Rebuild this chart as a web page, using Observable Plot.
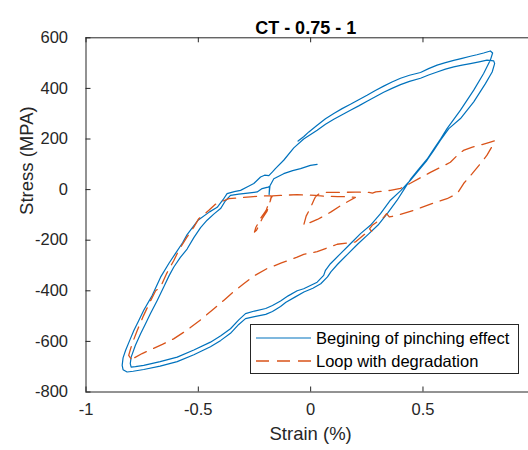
<!DOCTYPE html>
<html>
<head>
<meta charset="utf-8">
<script src="https://cdn.jsdelivr.net/npm/d3@7"></script>
<script src="https://cdn.jsdelivr.net/npm/@observablehq/plot@0.6"></script>
<style>
  html, body { margin: 0; padding: 0; background: #fff; overflow: hidden; }
  #chart svg { overflow: hidden; display: block; }
</style>
</head>
<body>
<div id="chart"></div>
<script>
const title = "CT - 0.75 - 1";
const xLabel = "Strain (%)";
const yLabel = "Stress (MPA)";
const seriesNames = ["Begining of pinching effect", "Loop with degradation"];
const seriesColors = ["#0072BD", "#D95319"];

const xTicks = [-1, -0.5, 0, 0.5, 1];
const xTickLabels = ["-1", "-0.5", "0", "0.5", "1"];
const yTicks = [-800, -600, -400, -200, 0, 200, 400, 600];
const yTickLabels = ["-800", "-600", "-400", "-200", "0", "200", "400", "600"];

// Series 1: Begining of pinching effect
const blueStrain = [
  -0.056,-0.030,-0.008,0.029,0.066,0.103,0.140,0.177,0.214,0.251,0.288,0.325,0.362,0.400,0.440,0.489,0.525,0.563,0.600,0.637,0.674,0.711,0.740,0.770,0.800,0.810,
  0.800,0.770,0.726,0.667,0.607,0.578,0.548,0.518,0.480,0.444,0.415,0.385,0.345,0.300,0.255,0.210,0.165,0.120,0.090,0.075,0.045,0.010,-0.030,-0.070,-0.110,-0.134,-0.170,-0.200,-0.250,-0.290,-0.320,-0.357,-0.400,-0.446,-0.520,-0.594,-0.670,-0.743,-0.790,-0.817,-0.835,-0.839,
  -0.835,-0.824,-0.805,-0.787,-0.765,-0.743,-0.705,-0.668,-0.630,-0.600,-0.570,-0.550,-0.500,-0.450,-0.416,-0.390,-0.372,-0.340,-0.312,-0.283,-0.253,-0.223,-0.205,-0.186,-0.170,
  -0.157,-0.120,-0.075,-0.031,0.029,0.066,0.103,0.140,0.177,0.214,0.251,0.288,0.325,0.362,0.400,0.440,0.489,0.525,0.563,0.600,0.637,0.674,0.711,0.750,0.785,0.815,0.819,
  0.808,0.778,0.726,0.667,0.615,0.578,0.548,0.518,0.480,0.444,0.400,0.355,0.311,0.266,0.222,0.177,0.133,0.088,0.066,0.058,0.029,-0.001,-0.031,-0.060,-0.100,-0.134,-0.170,-0.200,-0.250,-0.290,-0.320,-0.357,-0.400,-0.446,-0.520,-0.594,-0.670,-0.743,-0.780,-0.799,
  -0.803,-0.799,-0.780,-0.757,-0.735,-0.713,-0.683,-0.654,-0.630,-0.609,-0.580,-0.550,-0.520,-0.490,-0.461,-0.430,-0.401,-0.380,-0.357,-0.320,-0.280,-0.238,-0.216,-0.190,-0.183,-0.185,-0.181,-0.164,-0.120,-0.080,-0.045,-0.001,0.029
];
const blueStress = [
  192,210,228,254,280,301,320,337,355,373,392,409,425,440,452,463,478,492,502,511,519,527,533,540,548,540,
  512,459,393,314,241,200,160,120,80,40,0,-42,-90,-140,-178,-215,-255,-295,-325,-345,-372,-390,-405,-425,-445,-462,-482,-493,-502,-510,-533,-568,-596,-621,-653,-680,-698,-711,-718,-721,-712,-695,
  -665,-636,-595,-557,-517,-477,-418,-346,-290,-250,-210,-178,-120,-88,-70,-40,-16,-8,-3,10,24,50,57,55,70,
  83,116,165,200,235,258,278,296,314,331,349,367,385,400,415,428,440,453,465,476,485,492,498,505,512,509,498,
  465,419,347,281,241,195,155,116,75,37,-5,-42,-95,-141,-174,-214,-253,-293,-319,-339,-366,-379,-392,-400,-420,-440,-458,-470,-480,-490,-515,-550,-578,-603,-634,-662,-680,-695,-700,-702,
  -688,-662,-615,-570,-530,-490,-438,-385,-340,-306,-268,-235,-190,-150,-121,-96,-75,-45,-23,-18,-14,-9,4,10,12,-20,15,43,63,75,83,96,100
];

// Series 2: Loop with degradation
const orangeStrain = [
  -0.800,-0.810,-0.795,-0.772,-0.745,-0.713,-0.690,-0.668,-0.640,-0.609,-0.587,-0.550,-0.520,-0.498,-0.470,-0.453,-0.424,-0.390,-0.364,-0.327,-0.268,-0.220,-0.175,
  -0.178,-0.194,-0.216,-0.241,-0.250,-0.244,-0.222,-0.198,-0.182,-0.170,
  -0.134,-0.060,0.021,0.060,0.120,0.170,0.199,
  0.170,0.140,0.089,0.030,-0.031,-0.020,0.000,0.015,0.021,
  0.040,0.060,0.120,0.200,0.260,0.275,0.290,0.355,0.400,0.444,0.489,0.533,0.578,0.622,0.650,0.680,0.720,0.763,0.800,0.819,
  0.815,0.785,0.756,0.719,0.681,0.652,0.607,0.548,0.459,0.385,0.350,0.338,0.325,0.300,0.274,0.262,0.272,0.244,0.199,0.162,0.118,0.066,0.029,
  -0.031,-0.060,-0.130,-0.194,-0.250,-0.298,-0.345,-0.387,-0.440,-0.490,-0.550,-0.610,-0.660,-0.710,-0.750,-0.787,-0.800
];
const orangeStress = [
  -668,-655,-610,-557,-500,-440,-400,-385,-330,-280,-240,-187,-148,-115,-95,-82,-58,-45,-36,-33,-29,-25,-25,
  -40,-85,-115,-161,-168,-150,-112,-82,-42,-25,
  -23,-20,-23,-26,-28,-28,-31,
  -45,-60,-89,-118,-141,-105,-70,-40,-29,
  -15,-11,-11,-10,-11,-14,-9,-3,5,25,47,68,88,108,133,155,168,178,188,193,
  182,136,103,63,24,-16,-36,-53,-82,-102,-108,-95,-110,-125,-141,-155,-165,-174,-207,-211,-216,-233,-245,
  -256,-267,-290,-312,-340,-372,-405,-438,-478,-515,-555,-590,-612,-632,-648,-666,-668
];

const blue = blueStrain.map((s, i) => ({strain: s, stress: blueStress[i]}));
const orange = orangeStrain.map((s, i) => ({strain: s, stress: orangeStress[i]}));

const W = 528, H = 450;
const xRange = [85.5, 534.8];
const yRange = [391.5, 37.3];
const frameW = xRange[1] - xRange[0];
const frameH = yRange[0] - yRange[1];
const axisColor = "#262626";
const font = "'Liberation Sans', Arial, Helvetica, sans-serif";
const tickLen = 5;
// the x = 1 label lies beyond the window edge, as in the reference
const xLabelTicks = xTicks.filter(d => d < 1);

const plot = Plot.plot({
  width: W,
  height: H,
  marginLeft: xRange[0],
  marginRight: W - xRange[1],
  marginTop: yRange[1],
  marginBottom: H - yRange[0],
  x: {domain: [-1, 1], range: xRange},
  y: {domain: [-800, 600], range: yRange},
  style: {fontFamily: font, fontSize: "16px", color: axisColor, background: "#fff", overflow: "hidden"},
  marks: [
    Plot.line(blue, {x: "strain", y: "stress", stroke: seriesColors[0], strokeWidth: 1.2, strokeLinejoin: "round"}),
    Plot.line(orange, {x: "strain", y: "stress", stroke: seriesColors[1], strokeWidth: 1.3, strokeDasharray: "13,8"}),
    Plot.frame({stroke: axisColor, strokeWidth: 1}),
    // inward ticks
    Plot.tickX(xTicks, {x: d => d, insetTop: frameH - tickLen, stroke: axisColor}),
    Plot.tickX(xTicks, {x: d => d, insetBottom: frameH - tickLen, stroke: axisColor}),
    Plot.tickY(yTicks, {y: d => d, insetRight: frameW - tickLen, stroke: axisColor}),
    // tick labels
    Plot.axisX(xLabelTicks, {anchor: "bottom", tickSize: 0, tickPadding: 11, label: null,
      tickFormat: d => xTickLabels[xTicks.indexOf(d)], fontSize: 16.5, fill: axisColor}),
    Plot.axisY(yTicks, {anchor: "left", tickSize: 0, tickPadding: 18, label: null,
      tickFormat: d => yTickLabels[yTicks.indexOf(d)], fontSize: 16.5, fill: axisColor}),
    // axis titles
    Plot.text([xLabel], {frameAnchor: "bottom", dy: 48, fontSize: 18.5, fill: axisColor}),
    Plot.text([yLabel], {frameAnchor: "left", dx: -59, rotate: -90, fontSize: 18.5, fill: axisColor}),
    Plot.text([title], {frameAnchor: "top", dy: -17, dx: -5, fontSize: 18, fontWeight: "bold", fill: "#000"})
  ]
});

// Legend
const svg = d3.select(plot);
const lg = svg.append("g")
  .attr("font-family", font).attr("font-size", 16.5)
  .attr("text-anchor", "start");
lg.append("rect").attr("x", 250.5).attr("y", 324.5).attr("width", 268).attr("height", 49)
  .attr("fill", "#fff").attr("stroke", axisColor).attr("stroke-width", 1);
seriesNames.forEach((name, i) => {
  const y = 338 + i * 23;
  const ln = lg.append("line").attr("x1", 256).attr("x2", 311).attr("y1", y).attr("y2", y)
    .attr("fill", "none")
    .attr("stroke", seriesColors[i]).attr("stroke-width", i ? 1.3 : 1.2);
  if (i) ln.attr("stroke-dasharray", "13,8");
  lg.append("text").attr("x", 316).attr("y", y).attr("dy", "0.35em")
    .attr("text-anchor", "start")
    .attr("fill", "#000").text(name);
});

document.getElementById("chart").appendChild(plot);
</script>
</body>
</html>
